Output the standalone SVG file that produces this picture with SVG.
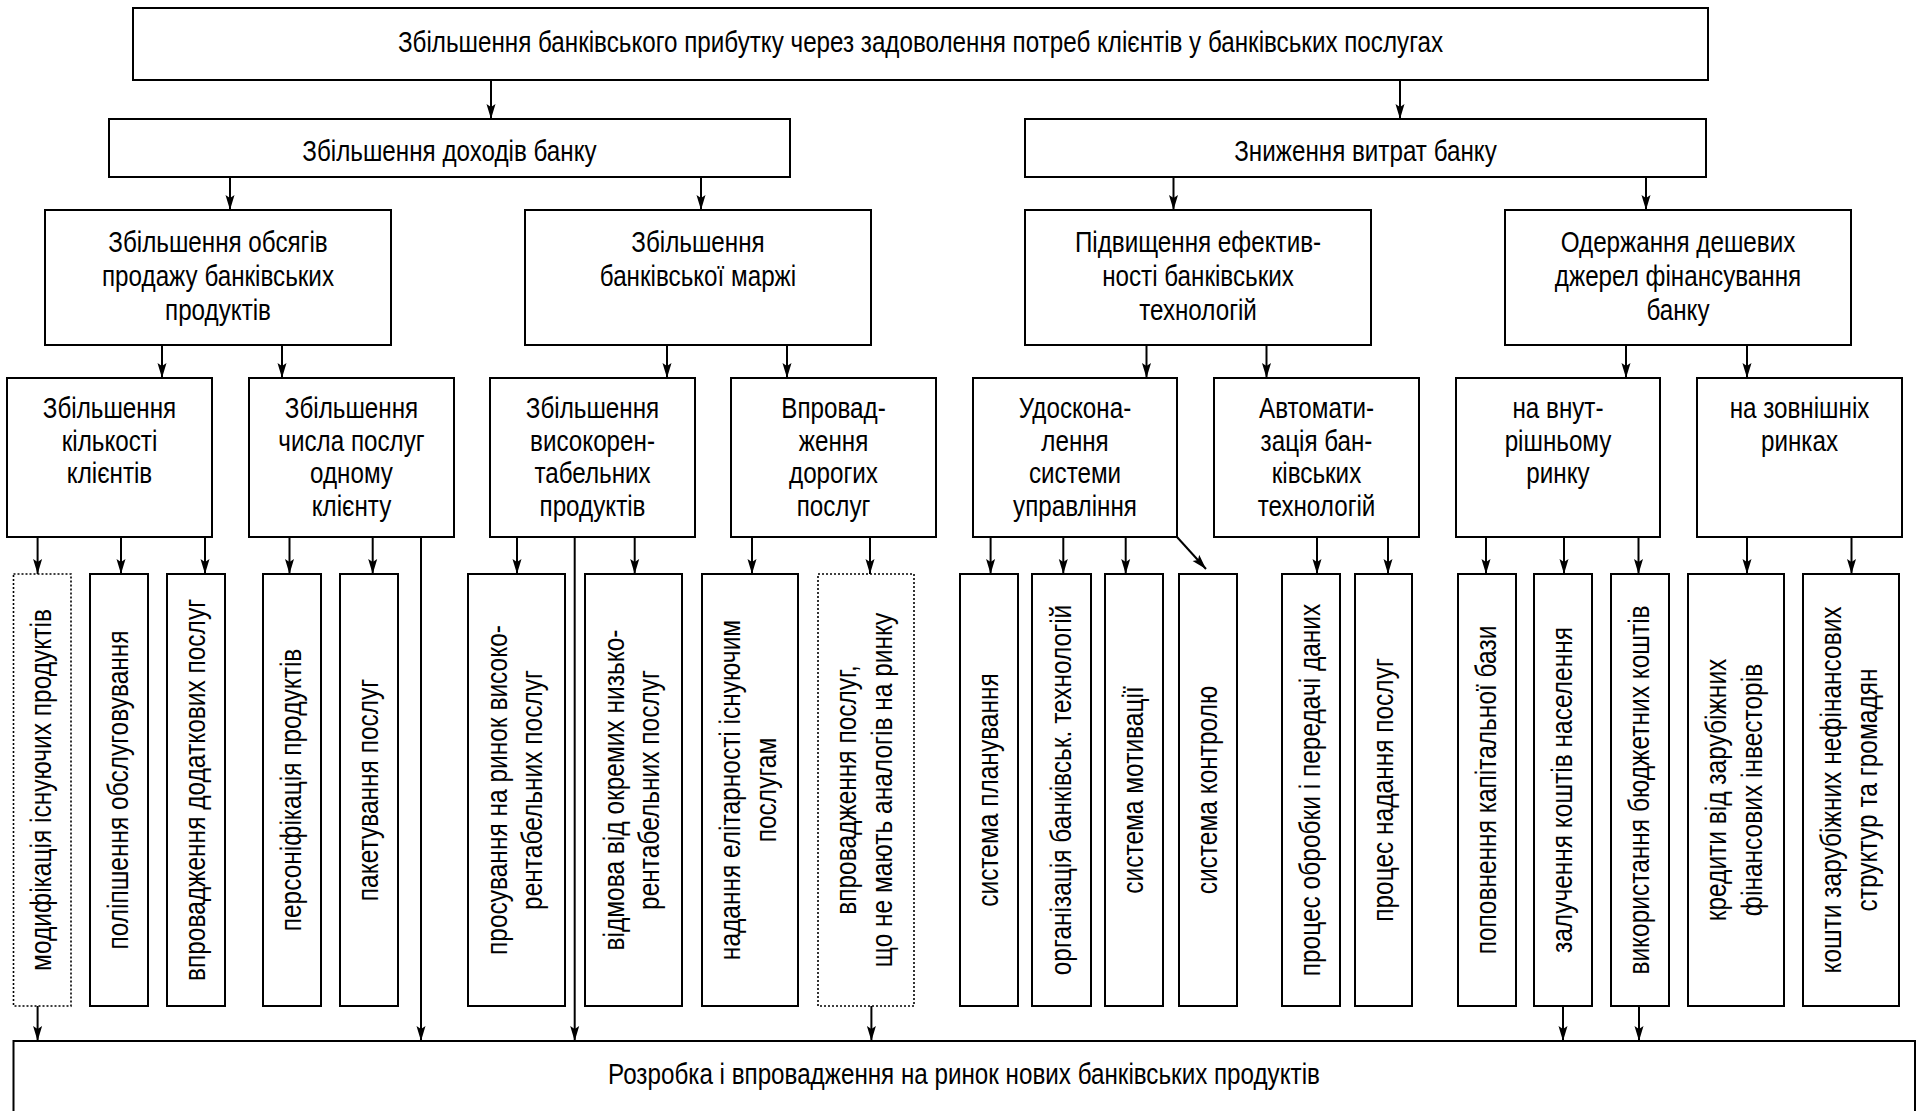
<svg xmlns="http://www.w3.org/2000/svg" width="1918" height="1111" viewBox="0 0 1918 1111">
<defs>
<style>
.box{fill:#fff;stroke:#000;stroke-width:2}
.dot{fill:#fff;stroke:#000;stroke-width:1.6;stroke-dasharray:2 2}
.t{font-family:"Liberation Sans",Arial,sans-serif;font-size:29px;fill:#000;text-anchor:middle}
.c{stroke:#000;stroke-width:2;fill:none;marker-end:url(#ah)}
</style>
<marker id="ah" markerUnits="userSpaceOnUse" markerWidth="15" markerHeight="10" refX="15" refY="5" orient="auto">
<path d="M0,0.5 L15,5 L0,9.5 L3,5 Z" fill="#000"/>
</marker>
</defs>
<rect width="1918" height="1111" fill="#fff"/>

<g id="connectors">
<path class="c" d="M491,80 V119"/>
<path class="c" d="M1400,80 V119"/>
<path class="c" d="M230,177 V210"/>
<path class="c" d="M701,177 V210"/>
<path class="c" d="M1173.5,177 V210"/>
<path class="c" d="M1646,177 V210"/>
<path class="c" d="M162,345 V378"/>
<path class="c" d="M282,345 V378"/>
<path class="c" d="M667,345 V378"/>
<path class="c" d="M787,345 V378"/>
<path class="c" d="M1146.5,345 V378"/>
<path class="c" d="M1266.5,345 V378"/>
<path class="c" d="M1626,345 V378"/>
<path class="c" d="M1747,345 V378"/>
<path class="c" d="M37.6,537 V574"/>
<path class="c" d="M121,537 V574"/>
<path class="c" d="M205,537 V574"/>
<path class="c" d="M289.5,537 V574"/>
<path class="c" d="M372.7,537 V574"/>
<path class="c" d="M421,537 V1041"/>
<path class="c" d="M517,537 V574"/>
<path class="c" d="M574.7,537 V1041"/>
<path class="c" d="M634.7,537 V574"/>
<path class="c" d="M752,537 V574"/>
<path class="c" d="M870,537 V574"/>
<path class="c" d="M990.6,537 V574"/>
<path class="c" d="M1063.3,537 V574"/>
<path class="c" d="M1125.7,537 V574"/>
<path class="c" d="M1177,537 L1206,569"/>
<path class="c" d="M1317,537 V574"/>
<path class="c" d="M1388,537 V574"/>
<path class="c" d="M1486,537 V574"/>
<path class="c" d="M1564,537 V574"/>
<path class="c" d="M1638.5,537 V574"/>
<path class="c" d="M1747,537 V574"/>
<path class="c" d="M1851.5,537 V574"/>
<path class="c" d="M37.6,1006 V1041"/>
<path class="c" d="M871.4,1006 V1041"/>
<path class="c" d="M1563,1006 V1041"/>
<path class="c" d="M1639,1006 V1041"/>
</g>

<g id="n-top"><rect class="box" x="133" y="8" width="1575" height="72"/>
<text class="t" transform="translate(920.5,0) scale(0.835,1)"><tspan x="0" y="52">Збільшення банківського прибутку через задоволення потреб клієнтів у банківських послугах</tspan></text></g>

<g id="n-income"><rect class="box" x="109" y="119" width="681" height="58"/>
<text class="t" transform="translate(449.5,0) scale(0.835,1)"><tspan x="0" y="161">Збільшення доходів банку</tspan></text></g>
<g id="n-costs"><rect class="box" x="1025" y="119" width="681" height="58"/>
<text class="t" transform="translate(1365.5,0) scale(0.835,1)"><tspan x="0" y="161">Зниження витрат банку</tspan></text></g>

<g id="n-volume"><rect class="box" x="45" y="210" width="346" height="135"/>
<text class="t" transform="translate(218,0) scale(0.835,1)"><tspan x="0" y="252">Збільшення обсягів</tspan><tspan x="0" y="286">продажу банківських</tspan><tspan x="0" y="320">продуктів</tspan></text></g>
<g id="n-margin"><rect class="box" x="525" y="210" width="346" height="135"/>
<text class="t" transform="translate(698,0) scale(0.835,1)"><tspan x="0" y="252">Збільшення</tspan><tspan x="0" y="286">банківської маржі</tspan></text></g>
<g id="n-efficiency"><rect class="box" x="1025" y="210" width="346" height="135"/>
<text class="t" transform="translate(1198,0) scale(0.835,1)"><tspan x="0" y="252">Підвищення ефектив-</tspan><tspan x="0" y="286">ності банківських</tspan><tspan x="0" y="320">технологій</tspan></text></g>
<g id="n-cheap"><rect class="box" x="1505" y="210" width="346" height="135"/>
<text class="t" transform="translate(1678,0) scale(0.835,1)"><tspan x="0" y="252">Одержання дешевих</tspan><tspan x="0" y="286">джерел фінансування</tspan><tspan x="0" y="320">банку</tspan></text></g>

<g id="n-clients"><rect class="box" x="7" y="378" width="205" height="159"/>
<text class="t" transform="translate(109.5,0) scale(0.835,1)"><tspan x="0" y="418">Збільшення</tspan><tspan x="0" y="451">кількості</tspan><tspan x="0" y="483.5">клієнтів</tspan></text></g>
<g id="n-services"><rect class="box" x="249" y="378" width="205" height="159"/>
<text class="t" transform="translate(351.5,0) scale(0.835,1)"><tspan x="0" y="418">Збільшення</tspan><tspan x="0" y="451">числа послуг</tspan><tspan x="0" y="483.5">одному</tspan><tspan x="0" y="516">клієнту</tspan></text></g>
<g id="n-profitable"><rect class="box" x="490" y="378" width="205" height="159"/>
<text class="t" transform="translate(592.5,0) scale(0.835,1)"><tspan x="0" y="418">Збільшення</tspan><tspan x="0" y="451">високорен-</tspan><tspan x="0" y="483.5">табельних</tspan><tspan x="0" y="516">продуктів</tspan></text></g>
<g id="n-expensive"><rect class="box" x="731" y="378" width="205" height="159"/>
<text class="t" transform="translate(833.5,0) scale(0.835,1)"><tspan x="0" y="418">Впровад-</tspan><tspan x="0" y="451">ження</tspan><tspan x="0" y="483.5">дорогих</tspan><tspan x="0" y="516">послуг</tspan></text></g>
<g id="n-management"><rect class="box" x="973" y="378" width="204" height="159"/>
<text class="t" transform="translate(1075,0) scale(0.835,1)"><tspan x="0" y="418">Удоскона-</tspan><tspan x="0" y="451">лення</tspan><tspan x="0" y="483.5">системи</tspan><tspan x="0" y="516">управління</tspan></text></g>
<g id="n-automation"><rect class="box" x="1214" y="378" width="205" height="159"/>
<text class="t" transform="translate(1316.5,0) scale(0.835,1)"><tspan x="0" y="418">Автомати-</tspan><tspan x="0" y="451">зація бан-</tspan><tspan x="0" y="483.5">ківських</tspan><tspan x="0" y="516">технологій</tspan></text></g>
<g id="n-domestic"><rect class="box" x="1456" y="378" width="204" height="159"/>
<text class="t" transform="translate(1558,0) scale(0.835,1)"><tspan x="0" y="418">на внут-</tspan><tspan x="0" y="451">рішньому</tspan><tspan x="0" y="483.5">ринку</tspan></text></g>
<g id="n-foreign"><rect class="box" x="1697" y="378" width="205" height="159"/>
<text class="t" transform="translate(1799.5,0) scale(0.835,1)"><tspan x="0" y="418">на зовнішніх</tspan><tspan x="0" y="451">ринках</tspan></text></g>

<g id="l01"><rect class="dot" x="13.5" y="574" width="57.5" height="432"/>
<text class="t" transform="translate(42.25,790) rotate(-90) scale(0.845,1)"><tspan x="0" y="9">модифікація існуючих продуктів</tspan></text></g>
<g id="l02"><rect class="box" x="90" y="574" width="58" height="432"/>
<text class="t" transform="translate(119,790) rotate(-90) scale(0.845,1)"><tspan x="0" y="9">поліпшення обслуговування</tspan></text></g>
<g id="l03"><rect class="box" x="167" y="574" width="58" height="432"/>
<text class="t" transform="translate(196,790) rotate(-90) scale(0.845,1)"><tspan x="0" y="9">впровадження додаткових послуг</tspan></text></g>
<g id="l04"><rect class="box" x="263" y="574" width="58" height="432"/>
<text class="t" transform="translate(292,790) rotate(-90) scale(0.845,1)"><tspan x="0" y="9">персоніфікація продуктів</tspan></text></g>
<g id="l05"><rect class="box" x="340" y="574" width="58" height="432"/>
<text class="t" transform="translate(369,790) rotate(-90) scale(0.845,1)"><tspan x="0" y="9">пакетування послуг</tspan></text></g>
<g id="l06"><rect class="box" x="468" y="574" width="97" height="432"/>
<text class="t" transform="translate(516.5,790) rotate(-90) scale(0.845,1)"><tspan x="0" y="-10">просування на ринок високо-</tspan><tspan x="0" y="26">рентабельних послуг</tspan></text></g>
<g id="l07"><rect class="box" x="585" y="574" width="97" height="432"/>
<text class="t" transform="translate(633.5,790) rotate(-90) scale(0.845,1)"><tspan x="0" y="-10">відмова від окремих низько-</tspan><tspan x="0" y="26">рентабельних послуг</tspan></text></g>
<g id="l08"><rect class="box" x="702" y="574" width="96" height="432"/>
<text class="t" transform="translate(750,790) rotate(-90) scale(0.845,1)"><tspan x="0" y="-10">надання елітарності існуючим</tspan><tspan x="0" y="26">послугам</tspan></text></g>
<g id="l09"><rect class="dot" x="818" y="574" width="96" height="432"/>
<text class="t" transform="translate(866,790) rotate(-90) scale(0.845,1)"><tspan x="0" y="-10">впровадження послуг,</tspan><tspan x="0" y="26">що не мають аналогів на ринку</tspan></text></g>
<g id="l10"><rect class="box" x="960" y="574" width="58" height="432"/>
<text class="t" transform="translate(989,790) rotate(-90) scale(0.845,1)"><tspan x="0" y="9">система планування</tspan></text></g>
<g id="l11"><rect class="box" x="1032" y="574" width="59" height="432"/>
<text class="t" transform="translate(1061.5,790) rotate(-90) scale(0.845,1)"><tspan x="0" y="9">організація банківськ. технологій</tspan></text></g>
<g id="l12"><rect class="box" x="1105" y="574" width="58" height="432"/>
<text class="t" transform="translate(1134,790) rotate(-90) scale(0.845,1)"><tspan x="0" y="9">система мотивації</tspan></text></g>
<g id="l13"><rect class="box" x="1179" y="574" width="58" height="432"/>
<text class="t" transform="translate(1208,790) rotate(-90) scale(0.845,1)"><tspan x="0" y="9">система контролю</tspan></text></g>
<g id="l14"><rect class="box" x="1282" y="574" width="58" height="432"/>
<text class="t" transform="translate(1311,790) rotate(-90) scale(0.845,1)"><tspan x="0" y="9">процес обробки і передачі даних</tspan></text></g>
<g id="l15"><rect class="box" x="1355" y="574" width="57" height="432"/>
<text class="t" transform="translate(1383.5,790) rotate(-90) scale(0.845,1)"><tspan x="0" y="9">процес надання послуг</tspan></text></g>
<g id="l16"><rect class="box" x="1458" y="574" width="58" height="432"/>
<text class="t" transform="translate(1487,790) rotate(-90) scale(0.845,1)"><tspan x="0" y="9">поповнення капітальної бази</tspan></text></g>
<g id="l17"><rect class="box" x="1534" y="574" width="58" height="432"/>
<text class="t" transform="translate(1563,790) rotate(-90) scale(0.845,1)"><tspan x="0" y="9">залучення коштів населення</tspan></text></g>
<g id="l18"><rect class="box" x="1611" y="574" width="58" height="432"/>
<text class="t" transform="translate(1640,790) rotate(-90) scale(0.845,1)"><tspan x="0" y="9">використання бюджетних коштів</tspan></text></g>
<g id="l19"><rect class="box" x="1688" y="574" width="96" height="432"/>
<text class="t" transform="translate(1736,790) rotate(-90) scale(0.845,1)"><tspan x="0" y="-10">кредити від зарубіжних</tspan><tspan x="0" y="26">фінансових інвесторів</tspan></text></g>
<g id="l20"><rect class="box" x="1803" y="574" width="96" height="432"/>
<text class="t" transform="translate(1851,790) rotate(-90) scale(0.845,1)"><tspan x="0" y="-10">кошти зарубіжних нефінансових</tspan><tspan x="0" y="26">структур та громадян</tspan></text></g>

<g id="n-bottom"><rect class="box" x="13.5" y="1041" width="1901.5" height="90"/>
<text class="t" transform="translate(964,0) scale(0.835,1)"><tspan x="0" y="1084">Розробка і впровадження на ринок нових банківських продуктів</tspan></text></g>
</svg>
